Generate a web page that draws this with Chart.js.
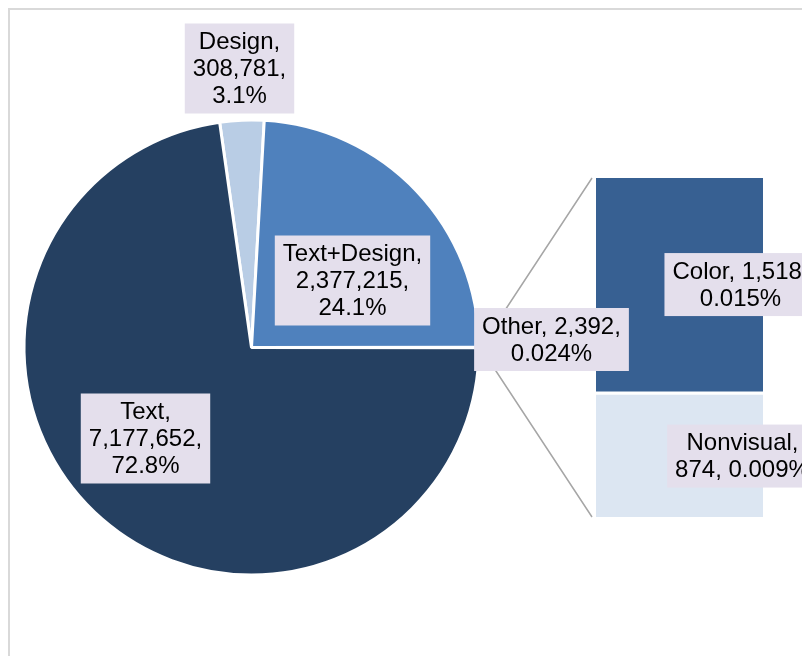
<!DOCTYPE html>
<html>
<head>
<meta charset="utf-8">
<script src="https://cdn.jsdelivr.net/npm/chart.js@4.4.0/dist/chart.umd.min.js"></script>
<style>
  html, body { margin: 0; padding: 0; background: #fff; overflow: hidden; }
  #wrap { position: relative; width: 802px; height: 656px; overflow: hidden; }
  #frame { position: absolute; left: 8px; top: 8px; width: 900px; height: 800px; border: 2px solid #d9d9d9; }
  canvas { position: absolute; left: 0; top: 0; }
</style>
</head>
<body>
<div id="wrap">
  <div id="frame"></div>
  <canvas id="pie" width="802" height="656"></canvas>
  <canvas id="bar" width="802" height="656"></canvas>
</div>
<script>
// pie slices, clockwise from the top
var pieLabels = ['Design', 'Text+Design', 'Other', 'Text'];
var pieValues = [308781, 2377215, 2392, 7177652];
var piePercents = ['3.1%', '24.1%', '0.024%', '72.8%'];
var pieColors = ['#b9cde5', '#4f81bd', '#95b3d7', '#254061'];

// breakdown of "Other"
var barLabels = ['Color', 'Nonvisual'];
var barValues = [1518, 874];
var barPercents = ['0.015%', '0.009%'];
var barColors = ['#376092', '#dce6f2'];

var FONT = '24px "Liberation Sans", Arial, sans-serif';

// put the middle of the "Other" slice at 3 o'clock
var pieTotal = pieValues.reduce(function(a, b) { return a + b; }, 0);
var beforeOther = pieValues[0] + pieValues[1] + pieValues[2] / 2;
var pieRotation = 90 - beforeOther / pieTotal * 360;

// label placement, offsets from the slice / bar centre
var pieLabelPos = [
  { dx: -12, dy: -279, wrap: 60 },
  { dx: 101, dy: -67, wrap: 60 },
  { dx: 300, dy: -8, wrap: 145 },
  { dx: -106, dy: 91, wrap: 60 }
];
var barLabelPos = [
  { dx: 61, dy: -1, wrap: 145 },
  { dx: 63, dy: 1, wrap: 145 }
];

function wrapTokens(ctx, tokens, maxW) {
  var lines = [];
  var cur = '';
  tokens.forEach(function(t) {
    var test = cur ? cur + ' ' + t : t;
    if (cur && ctx.measureText(test).width > maxW) {
      lines.push(cur);
      cur = t;
    } else {
      cur = test;
    }
  });
  if (cur) lines.push(cur);
  return lines;
}

function drawLabel(ctx, tokens, cx, cy, maxW) {
  ctx.save();
  ctx.font = FONT;
  var lines = wrapTokens(ctx, tokens, maxW);
  var lh = 27;
  var w = 0;
  lines.forEach(function(l) { w = Math.max(w, ctx.measureText(l).width); });
  var bw = w + 16, bh = lines.length * lh + 9;
  ctx.fillStyle = '#e4dfec';
  ctx.fillRect(cx - bw / 2, cy - bh / 2, bw, bh);
  ctx.fillStyle = '#000';
  ctx.textAlign = 'center';
  ctx.textBaseline = 'middle';
  lines.forEach(function(l, i) {
    ctx.fillText(l, cx, cy - bh / 2 + 4.5 + lh * i + lh / 2 + 1);
  });
  ctx.restore();
}

var fmt = function(v) { return v.toLocaleString('en-US'); };

var pieChart = new Chart(document.getElementById('pie'), {
  type: 'pie',
  data: {
    labels: pieLabels,
    datasets: [{
      data: pieValues,
      backgroundColor: pieColors,
      borderColor: '#ffffff',
      borderWidth: 3
    }]
  },
  options: {
    responsive: false,
    animation: false,
    rotation: pieRotation,
    layout: { padding: { left: 22.5, top: 118.5, right: 321.5, bottom: 79.5 } },
    plugins: { legend: { display: false }, tooltip: { enabled: false } }
  }
});

var barChart = new Chart(document.getElementById('bar'), {
  type: 'bar',
  data: {
    labels: ['Other'],
    datasets: barLabels.map(function(name, i) {
      return {
        label: name,
        data: [barValues[i]],
        backgroundColor: barColors[i],
        borderColor: '#ffffff',
        borderSkipped: false,
        borderWidth: i === 0 ? { top: 0, left: 0, right: 0, bottom: 2 } : { top: 2, left: 0, right: 0, bottom: 0 },
        categoryPercentage: 1,
        barPercentage: 1
      };
    })
  },
  options: {
    responsive: false,
    animation: false,
    layout: { padding: { left: 596, right: 39, top: 178, bottom: 139 } },
    scales: {
      x: { stacked: true, display: false },
      y: { stacked: true, display: false, reverse: true, min: 0,
           max: barValues.reduce(function(a, b) { return a + b; }, 0) }
    },
    plugins: { legend: { display: false }, tooltip: { enabled: false } }
  },
  plugins: [{
    id: 'pieOfBar',
    afterDraw: function(chart) {
      var ctx = chart.ctx;
      var arcs = pieChart.getDatasetMeta(0).data;
      var other = arcs[2];
      var mid = (other.startAngle + other.endAngle) / 2;
      var r = other.outerRadius + 1.5;
      var sx = other.x + r * Math.cos(mid);
      var sy = other.y + r * Math.sin(mid);

      var top = chart.getDatasetMeta(0).data[0];
      var bot = chart.getDatasetMeta(1).data[0];
      var left = top.x - top.width / 2 - 4;
      var yTop = Math.min(top.y, top.base);
      var yBot = Math.max(bot.y, bot.base);

      ctx.save();
      ctx.strokeStyle = '#a6a6a6';
      ctx.lineWidth = 1.5;
      ctx.beginPath();
      ctx.moveTo(sx, sy);
      ctx.lineTo(left, yTop);
      ctx.moveTo(sx, sy);
      ctx.lineTo(left, yBot);
      ctx.stroke();
      ctx.restore();

      arcs.forEach(function(a, i) {
        var p = pieLabelPos[i];
        drawLabel(ctx, [pieLabels[i] + ',', fmt(pieValues[i]) + ',', piePercents[i]],
          a.x + p.dx, a.y + p.dy, p.wrap);
      });
      barLabels.forEach(function(name, i) {
        var b = chart.getDatasetMeta(i).data[0];
        var p = barLabelPos[i];
        drawLabel(ctx, [name + ',', fmt(barValues[i]) + ',', barPercents[i]],
          b.x + p.dx, (b.y + b.base) / 2 + p.dy, p.wrap);
      });
    }
  }]
});
</script>
</body>
</html>
